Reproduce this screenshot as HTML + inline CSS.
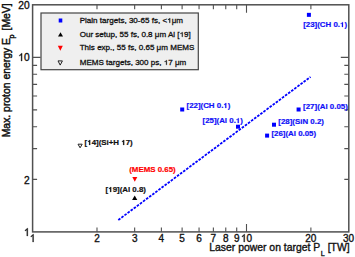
<!DOCTYPE html><html><head><meta charset="utf-8"><style>html,body{margin:0;padding:0;background:#fff;width:355px;height:257px;overflow:hidden}svg{display:block}text{font-family:"Liberation Sans",sans-serif}.t{stroke:#111;stroke-width:0.35px}.t2{stroke:#111;stroke-width:0.3px}.h{fill:transparent;stroke:none}</style></head><body>
<svg width="355" height="257" viewBox="0 0 355 257">
<path d="M96.99 231.9V227.4M96.99 4.8V9.3M134.66 231.9V227.4M134.66 4.8V9.3M161.38 231.9V227.4M161.38 4.8V9.3M182.11 231.9V227.4M182.11 4.8V9.3M199.05 231.9V227.4M199.05 4.8V9.3M213.37 231.9V227.4M213.37 4.8V9.3M225.77 231.9V227.4M225.77 4.8V9.3M236.71 231.9V227.4M236.71 4.8V9.3M246.50 231.9V223.9M246.50 4.8V12.8M310.89 231.9V227.4M310.89 4.8V9.3M32.6 179.35H37.1M348.8 179.35H344.3M32.6 148.61H37.1M348.8 148.61H344.3M32.6 126.80H37.1M348.8 126.80H344.3M32.6 109.89H37.1M348.8 109.89H344.3M32.6 96.07H37.1M348.8 96.07H344.3M32.6 84.38H37.1M348.8 84.38H344.3M32.6 74.26H37.1M348.8 74.26H344.3M32.6 65.33H37.1M348.8 65.33H344.3M32.6 57.34H40.6M348.8 57.34H340.8" stroke="#505050" stroke-width="1.1" fill="none"/>
<rect x="32.6" y="4.8" width="316.20" height="227.10" fill="none" stroke="#505050" stroke-width="1.5"/>
<line x1="118.3" y1="220.0" x2="310.5" y2="76.9" stroke="#0000ff" stroke-width="1.8" stroke-dasharray="2.6 1.25"/>
<rect x="41" y="13" width="157.3" height="56.7" fill="#efefef" stroke="#444" stroke-width="1.2"/>
<text x="79.7" y="22.5" font-size="8.05" fill="#111" class="t2">Plain targets, 30-65 fs, &lt;<tspan class="h">1</tspan>μm</text>
<text x="79.7" y="36.9" font-size="8.05" fill="#111" class="t2">Our setup, 55 fs, 0.8 μm Al [<tspan class="h">1</tspan>9]</text>
<text x="79.7" y="50.0" font-size="8.05" fill="#111" class="t2">This exp., 55 fs, 0.65 μm MEMS</text>
<text x="79.7" y="64.9" font-size="8.05" fill="#111" class="t2">MEMS targets, 300 ps, <tspan class="h">1</tspan>7 μm</text>
<rect x="58.7" y="18.5" width="3.6" height="4" fill="#0000ff"/>
<path d="M58.00 36.60L63.00 36.60L60.50 32.20Z" fill="#000"/>
<path d="M57.80 45.80L62.80 45.80L60.30 50.80Z" fill="#ff0000"/>
<path d="M58.00 60.90L62.40 60.90L60.20 65.10Z" fill="none" stroke="#222" stroke-width="1"/>
<rect x="306.90" y="12.85" width="4" height="4" fill="#0000ff"/>
<rect x="180.20" y="107.50" width="4" height="4" fill="#0000ff"/>
<rect x="236.00" y="124.70" width="4" height="4" fill="#0000ff"/>
<rect x="296.60" y="107.50" width="4" height="4" fill="#0000ff"/>
<rect x="272.00" y="122.70" width="4" height="4" fill="#0000ff"/>
<rect x="265.10" y="133.60" width="4" height="4" fill="#0000ff"/>
<path d="M132.10 200.00L137.30 200.00L134.70 195.40Z" fill="#000"/>
<path d="M132.30 177.10L137.30 177.10L134.80 181.70Z" fill="#ff0000"/>
<path d="M78.00 144.20L82.20 144.20L80.10 147.80Z" fill="none" stroke="#222" stroke-width="1"/>
<text x="303.2" y="26.8" font-size="7.9" font-weight="bold" fill="#1010f8" stroke="#1010f8" stroke-width="0.2">[23](CH 0.<tspan class="h">1</tspan>)</text>
<text x="186.5" y="107.9" font-size="7.9" font-weight="bold" fill="#1010f8" stroke="#1010f8" stroke-width="0.2">[22](CH 0.<tspan class="h">1</tspan>)</text>
<text x="202.5" y="122.6" font-size="7.9" font-weight="bold" fill="#1010f8" stroke="#1010f8" stroke-width="0.2">[25](Al 0.<tspan class="h">1</tspan>)</text>
<text x="303.1" y="109.3" font-size="7.9" font-weight="bold" fill="#1010f8" stroke="#1010f8" stroke-width="0.2">[27](Al 0.05)</text>
<text x="278.3" y="124.2" font-size="7.9" font-weight="bold" fill="#1010f8" stroke="#1010f8" stroke-width="0.2">[28](SiN 0.2)</text>
<text x="271.4" y="136.4" font-size="7.9" font-weight="bold" fill="#1010f8" stroke="#1010f8" stroke-width="0.2">[26](Al 0.05)</text>
<text x="84.6" y="145.0" font-size="7.9" font-weight="bold" fill="#111" stroke="#111" stroke-width="0.2">[<tspan class="h">1</tspan>4](Si+H <tspan class="h">1</tspan>7)</text>
<text x="129.2" y="172.3" font-size="7.9" font-weight="bold" fill="#ff0000" stroke="#ff0000" stroke-width="0.2">(MEMS 0.65)</text>
<text x="105.6" y="192.0" font-size="7.9" font-weight="bold" fill="#111" stroke="#111" stroke-width="0.2">[<tspan class="h">1</tspan>9](Al 0.8)</text>
<text x="32.60" y="242.1" font-size="10" class="t" text-anchor="middle" fill="#111"><tspan class="h">1</tspan></text>
<text x="96.99" y="242.1" font-size="10" class="t" text-anchor="middle" fill="#111">2</text>
<text x="134.66" y="242.1" font-size="10" class="t" text-anchor="middle" fill="#111">3</text>
<text x="161.38" y="242.1" font-size="10" class="t" text-anchor="middle" fill="#111">4</text>
<text x="182.11" y="242.1" font-size="10" class="t" text-anchor="middle" fill="#111">5</text>
<text x="199.05" y="242.1" font-size="10" class="t" text-anchor="middle" fill="#111">6</text>
<text x="213.37" y="242.1" font-size="10" class="t" text-anchor="middle" fill="#111">7</text>
<text x="225.77" y="242.1" font-size="10" class="t" text-anchor="middle" fill="#111">8</text>
<text x="236.71" y="242.1" font-size="10" class="t" text-anchor="middle" fill="#111">9</text>
<text x="246.50" y="242.1" font-size="10" class="t" text-anchor="middle" fill="#111"><tspan class="h">1</tspan>0</text>
<text x="310.89" y="242.1" font-size="10" class="t" text-anchor="middle" fill="#111">20</text>
<text x="348.56" y="242.1" font-size="10" class="t" text-anchor="middle" fill="#111">30</text>
<text x="29.6" y="236" font-size="10.2" text-anchor="end" fill="#111" class="t"><tspan class="h">1</tspan></text>
<text x="29.6" y="183.7" font-size="10.2" text-anchor="end" fill="#111" class="t">2</text>
<text x="29.6" y="61.4" font-size="10.2" text-anchor="end" fill="#111" class="t"><tspan class="h">1</tspan>0</text>
<text x="29.6" y="8.6" font-size="10.2" text-anchor="end" fill="#111" class="t">20</text>
<text x="209.3" y="250.8" font-size="10.4" fill="#111" class="t">Laser power on target P<tspan font-size="7.2" dx="0.6" dy="5.6">L</tspan><tspan dy="-5.6"> [TW]</tspan></text>
<text transform="translate(10.4 137.3) rotate(-90)" x="0" y="0" font-size="10.4" fill="#111" class="t" style="stroke-width:0.45px">Max. proton energy E<tspan font-size="7.2" dx="-0.6" dy="3.5">p</tspan><tspan dx="1.2" dy="-3.5"> [MeV]</tspan></text>
<path d="M170.15 22.79L169.44 22.79L169.44 19.25C169.28 19.38 169.05 19.51 168.78 19.64C168.50 19.76 168.25 19.86 168.03 19.92L168.03 19.39C168.43 19.24 168.77 19.06 169.07 18.86C169.36 18.65 169.57 18.45 169.69 18.27L170.15 18.27Z" fill="rgb(17, 17, 17)" stroke="rgb(17, 17, 17)" stroke-width="0.3px"/>
<path d="M182.61 36.73L181.90 36.73L181.90 33.24C181.73 33.37 181.50 33.50 181.23 33.62C180.95 33.74 180.71 33.84 180.48 33.90L180.48 33.37C180.88 33.23 181.23 33.05 181.52 32.85C181.82 32.65 182.02 32.45 182.15 32.27L182.61 32.27Z" fill="rgb(17, 17, 17)" stroke="rgb(17, 17, 17)" stroke-width="0.3px"/>
<path d="M166.79 64.77L166.09 64.77L166.09 61.32C165.92 61.44 165.69 61.57 165.42 61.69C165.14 61.81 164.89 61.91 164.67 61.97L164.67 61.45C165.07 61.30 165.41 61.13 165.71 60.93C166.00 60.73 166.21 60.53 166.33 60.36L166.79 60.36Z" fill="rgb(17, 17, 17)" stroke="rgb(17, 17, 17)" stroke-width="0.3px"/>
<path d="M343.01 26.99L341.93 26.99L341.93 23.49C341.61 23.75 341.22 23.95 340.78 24.10L340.78 23.33C341.05 23.24 341.36 23.09 341.65 22.90C341.95 22.70 342.15 22.45 342.27 22.15L343.01 22.15Z" fill="rgb(16, 16, 248)" stroke="rgb(16, 16, 248)" stroke-width="0.2px"/>
<path d="M226.31 107.98L225.23 107.98L225.23 104.44C224.91 104.70 224.52 104.91 224.08 105.06L224.08 104.27C224.35 104.19 224.66 104.04 224.95 103.84C225.25 103.64 225.45 103.38 225.57 103.08L226.31 103.08Z" fill="rgb(16, 16, 248)" stroke="rgb(16, 16, 248)" stroke-width="0.2px"/>
<path d="M238.80 122.97L237.71 122.97L237.71 119.51C237.39 119.76 237.01 119.96 236.56 120.11L236.56 119.34C236.84 119.26 237.14 119.11 237.44 118.92C237.73 118.72 237.94 118.47 238.05 118.18L238.80 118.18Z" fill="rgb(16, 16, 248)" stroke="rgb(16, 16, 248)" stroke-width="0.2px"/>
<path d="M90.21 144.98L89.12 144.98L89.12 141.44C88.81 141.70 88.42 141.91 87.97 142.06L87.97 141.27C88.25 141.19 88.55 141.04 88.85 140.84C89.15 140.64 89.35 140.38 89.47 140.08L90.21 140.08Z" fill="rgb(17, 17, 17)" stroke="rgb(17, 17, 17)" stroke-width="0.2px"/>
<path d="M124.21 144.98L123.12 144.98L123.12 141.44C122.81 141.70 122.42 141.91 121.97 142.06L121.97 141.27C122.25 141.19 122.55 141.04 122.85 140.84C123.15 140.64 123.35 140.38 123.47 140.08L124.21 140.08Z" fill="rgb(17, 17, 17)" stroke="rgb(17, 17, 17)" stroke-width="0.2px"/>
<path d="M111.21 191.98L110.12 191.98L110.12 188.44C109.81 188.70 109.42 188.91 108.97 189.06L108.97 188.27C109.25 188.19 109.55 188.04 109.85 187.84C110.15 187.64 110.35 187.38 110.47 187.08L111.21 187.08Z" fill="rgb(17, 17, 17)" stroke="rgb(17, 17, 17)" stroke-width="0.2px"/>
<path d="M33.54 241.95L32.67 241.95L32.67 235.83C32.46 236.05 32.18 236.28 31.84 236.50C31.49 236.71 31.19 236.88 30.91 236.99L30.91 236.06C31.40 235.81 31.83 235.50 32.20 235.15C32.56 234.79 32.82 234.45 32.97 234.13L33.54 234.13Z" fill="rgb(17, 17, 17)" stroke="rgb(17, 17, 17)" stroke-width="0.35px"/>
<path d="M244.66 241.92L243.78 241.92L243.78 235.87C243.57 236.09 243.30 236.31 242.95 236.53C242.61 236.74 242.30 236.91 242.03 237.02L242.03 236.10C242.52 235.85 242.95 235.55 243.32 235.19C243.68 234.84 243.94 234.50 244.09 234.19L244.66 234.19Z" fill="rgb(17, 17, 17)" stroke="rgb(17, 17, 17)" stroke-width="0.35px"/>
<path d="M27.73 235.92L26.83 235.92L26.83 229.88C26.62 230.10 26.33 230.32 25.99 230.54C25.64 230.75 25.32 230.92 25.04 231.03L25.04 230.11C25.54 229.86 25.98 229.56 26.35 229.20C26.73 228.85 26.99 228.51 27.15 228.20L27.73 228.20Z" fill="rgb(17, 17, 17)" stroke="rgb(17, 17, 17)" stroke-width="0.35px"/>
<path d="M22.06 60.97L21.16 60.97L21.16 54.94C20.95 55.15 20.66 55.37 20.31 55.59C19.96 55.81 19.65 55.97 19.37 56.08L19.37 55.16C19.87 54.92 20.31 54.61 20.68 54.26C21.06 53.91 21.32 53.57 21.47 53.26L22.06 53.26Z" fill="rgb(17, 17, 17)" stroke="rgb(17, 17, 17)" stroke-width="0.35px"/>
</svg></body></html>
